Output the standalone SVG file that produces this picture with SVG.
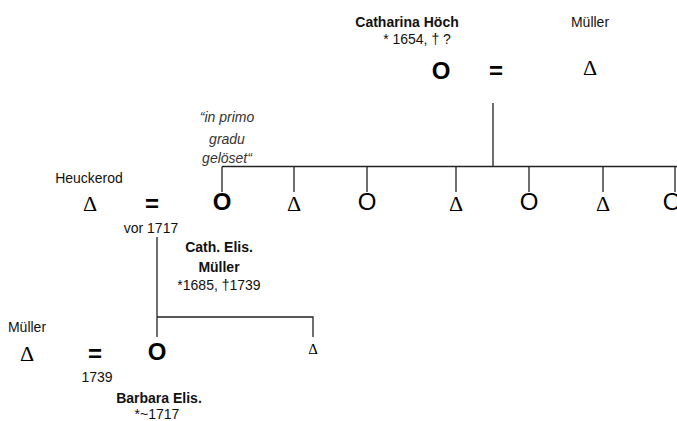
<svg xmlns="http://www.w3.org/2000/svg" width="677" height="421" viewBox="0 0 677 421">
<style>
.t{font-family:"Liberation Sans",Arial,sans-serif;font-size:14px;fill:#111;text-anchor:middle}
.b{font-weight:bold}
.i{font-style:italic;fill:#333}
.o{font-family:"Liberation Sans",Arial,sans-serif;font-size:24px;fill:#000;text-anchor:middle}
.d{font-family:"Liberation Serif","Times New Roman",serif;font-size:22px;fill:#000;text-anchor:middle}
.ds{font-family:"Liberation Serif","Times New Roman",serif;font-size:15px;fill:#000;text-anchor:middle}
.eq{font-family:"Liberation Sans",Arial,sans-serif;font-size:24px;font-weight:bold;fill:#000;text-anchor:middle}
.ln{stroke:#222;stroke-width:1.3;fill:none}
</style>
<rect width="677" height="421" fill="#fff"/>
<g id="connectors">
<path class="ln" d="M493 103V166.5M222 166.5H677M222 166.5V192M294 166.5V192M367 166.5V192M456 166.5V192M529 166.5V192M603 166.5V192M675 166.5V192"/>
<path class="ln" d="M157 237V337M157 317H313V337"/>
</g>
<g id="catharina">
<text class="t b" x="407" y="27">Catharina Höch</text>
<text class="t" x="417" y="44">* 1654, † ?</text>
<text class="o b" x="441" y="79">O</text>
</g>
<g id="marriage1"><text class="eq" x="496" y="79">=</text></g>
<g id="mueller1">
<text class="t" x="590" y="27">Müller</text>
<text class="d" x="590" y="75">Δ</text>
</g>
<g id="note"><text class="t i" x="227" y="122">“in primo</text><text class="t i" x="227" y="144">gradu</text><text class="t i" x="227" y="163">gelöset“</text></g>
<g id="child1"><text class="o b" x="222" y="210">O</text></g>
<g id="child2"><text class="d" x="294" y="211">Δ</text></g>
<g id="child3"><text class="o" x="367" y="210">O</text></g>
<g id="child4"><text class="d" x="456" y="211">Δ</text></g>
<g id="child5"><text class="o" x="529" y="210">O</text></g>
<g id="child6"><text class="d" x="603" y="211">Δ</text></g>
<g id="child7"><text class="o" x="672" y="210">O</text></g>
<g id="heuckerod">
<text class="t" x="89" y="183">Heuckerod</text>
<text class="d" x="90" y="211">Δ</text>
</g>
<g id="marriage2">
<text class="eq" x="152" y="212">=</text>
<text class="t" x="151" y="233">vor 1717</text>
</g>
<g id="cathelis">
<text class="t b" x="219" y="252">Cath. Elis.</text>
<text class="t b" x="219" y="272">Müller</text>
<text class="t" x="219" y="290">*1685, †1739</text>
</g>
<g id="mueller2">
<text class="t" x="27" y="332">Müller</text>
<text class="d" x="27" y="361">Δ</text>
</g>
<g id="marriage3">
<text class="eq" x="95" y="362">=</text>
<text class="t" x="97" y="382">1739</text>
</g>
<g id="barbara">
<text class="o b" x="157" y="360">O</text>
<text class="t b" x="159" y="403">Barbara Elis.</text>
<text class="t" x="157" y="419">*~1717</text>
</g>
<g id="son"><text class="ds" x="313" y="354">Δ</text></g>
</svg>
